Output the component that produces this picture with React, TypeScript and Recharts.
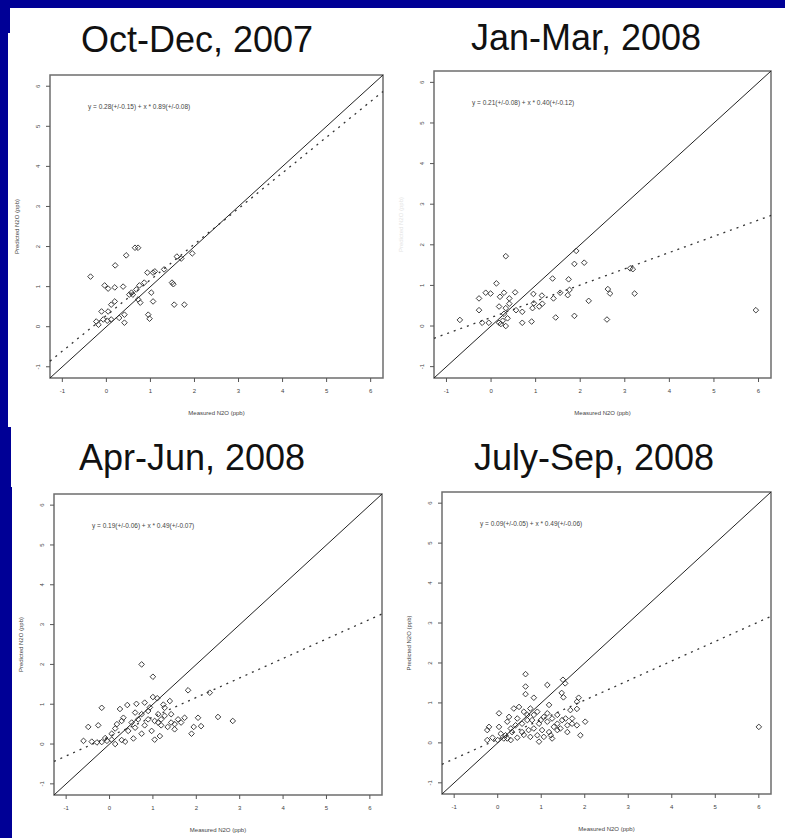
import React from "react";
import { ScatterChart, Scatter, XAxis, YAxis, ReferenceLine, ReferenceArea, Label } from "recharts";

// seasonal measured vs predicted N2O (ppb)
const titles = ["Oct-Dec, 2007", "Jan-Mar, 2008", "Apr-Jun, 2008", "July-Sep, 2008"];
const axisTicks = [-1, 0, 1, 2, 3, 4, 5, 6];

// fitted regression: predicted = a + b * measured
const intercepts = [0.28, 0.21, 0.19, 0.09];
const interceptErr = [0.15, 0.08, 0.06, 0.05];
const slopes = [0.89, 0.4, 0.49, 0.49];
const slopeErr = [0.08, 0.12, 0.07, 0.06];

const octDec2007: [number, number][] = [
  [0.65, 1.97], [0.72, 1.97], [0.45, 1.78], [0.2, 1.53], [-0.36, 1.25], [0.93, 1.35],
  [1.06, 1.35], [1.49, 1.1], [1.52, 1.06], [1.95, 1.83], [1.7, 1.7], [-0.04, 1.03],
  [0.04, 0.95], [0.19, 0.98], [0.38, 1.0], [0.57, 0.85], [0.68, 0.93], [0.75, 1.03],
  [0.86, 1.1], [1.02, 0.85], [1.06, 0.63], [0.72, 0.68], [0.77, 0.6], [0.19, 0.63],
  [0.11, 0.55], [-0.11, 0.38], [0.04, 0.38], [0.41, 0.3], [0.41, 0.1], [0.95, 0.3],
  [0.98, 0.2], [1.54, 0.55], [1.77, 0.55], [-0.23, 0.13], [-0.18, 0.05], [-0.07, 0.18],
  [0.02, 0.15], [0.11, 0.18], [0.29, 0.22], [0.52, 0.8], [0.6, 0.8], [1.1, 1.38],
  [1.31, 1.43], [1.6, 1.75],
];

const janMar2008: [number, number][] = [
  [0.33, 1.72], [1.91, 1.85], [1.87, 1.53], [2.09, 1.56], [3.18, 1.4], [3.12, 1.42],
  [1.38, 1.17], [1.74, 1.15], [0.12, 1.05], [-0.12, 0.82], [-0.27, 0.68], [-0.01, 0.8],
  [0.29, 0.82], [0.54, 0.83], [0.2, 0.72], [0.41, 0.68], [0.95, 0.79], [1.14, 0.75],
  [1.55, 0.82], [1.76, 0.89], [1.72, 0.76], [1.4, 0.68], [2.19, 0.62], [2.62, 0.91],
  [2.67, 0.8], [3.22, 0.8], [5.94, 0.39], [-0.27, 0.39], [0.18, 0.48], [0.33, 0.44],
  [0.56, 0.39], [0.7, 0.35], [0.93, 0.44], [1.08, 0.48], [1.15, 0.55], [0.96, 0.56],
  [1.45, 0.21], [1.87, 0.25], [2.6, 0.16], [-0.7, 0.15], [-0.2, 0.08], [-0.05, 0.08],
  [0.18, 0.08], [0.26, 0.13], [0.37, 0.19], [0.29, 0.3], [0.33, 0.0], [0.22, 0.05],
  [0.7, 0.08], [0.91, 0.11], [0.41, 0.55],
];

const aprJun2008: [number, number][] = [
  [0.74, 2.0], [1.0, 1.69], [-0.18, 0.91], [0.24, 0.88], [0.41, 0.98], [0.62, 1.01],
  [0.81, 1.04], [1.0, 1.18], [1.1, 1.15], [1.27, 0.91], [1.39, 1.08], [1.81, 1.35],
  [2.31, 1.29], [2.5, 0.68], [2.84, 0.58], [2.11, 0.45], [1.94, 0.43], [1.89, 0.26],
  [1.58, 0.62], [1.73, 0.66], [2.04, 0.66], [1.5, 0.5], [1.34, 0.43], [1.19, 0.47],
  [1.04, 0.58], [0.89, 0.62], [0.74, 0.75], [0.59, 0.79], [0.66, 0.62], [0.51, 0.54],
  [0.28, 0.58], [0.13, 0.39], [0.05, 0.26], [-0.49, 0.43], [-0.26, 0.47], [-0.6, 0.08],
  [-0.41, 0.06], [-0.29, 0.04], [-0.18, 0.05], [-0.06, 0.08], [0.05, 0.11], [0.28, 0.1],
  [0.36, 0.06], [0.55, 0.14], [0.74, 0.26], [1.04, 0.11], [1.16, 0.2], [0.59, 0.41],
  [0.43, 0.33], [0.97, 0.33], [1.12, 0.75], [1.27, 0.71], [1.42, 0.75], [0.89, 0.83],
  [1.19, 0.62], [1.42, 0.54], [1.5, 0.37], [1.65, 0.54], [1.12, 0.54], [0.81, 0.47],
  [0.32, 0.66], [0.17, 0.5], [-0.1, 0.15], [0.13, 0.0], [1.24, 0.99], [0.93, 0.92],
];

const julSep2008: [number, number][] = [
  [6.0, 0.4], [0.64, 1.72], [0.64, 1.41], [1.14, 1.45], [1.5, 1.58], [1.55, 1.49],
  [0.64, 1.22], [0.83, 1.13], [1.47, 1.25], [1.51, 1.14], [1.86, 1.13], [1.82, 1.03],
  [1.18, 0.95], [1.67, 0.82], [1.82, 0.85], [0.03, 0.74], [0.37, 0.86], [0.49, 0.9],
  [0.75, 0.86], [-0.2, 0.4], [-0.24, 0.32], [-0.12, 0.13], [0.07, 0.23], [0.22, 0.53],
  [0.3, 0.36], [0.45, 0.61], [0.56, 0.48], [0.68, 0.7], [0.79, 0.57], [0.91, 0.78],
  [0.95, 0.48], [1.06, 0.65], [1.14, 0.53], [1.25, 0.61], [1.37, 0.48], [1.48, 0.57],
  [1.6, 0.44], [1.71, 0.48], [1.82, 0.44], [2.01, 0.53], [1.9, 0.19], [1.6, 0.27],
  [1.37, 0.32], [1.22, 0.19], [1.06, 0.15], [0.91, 0.19], [0.75, 0.15], [0.6, 0.2],
  [0.45, 0.13], [0.3, 0.07], [0.14, 0.11], [0.0, 0.07], [-0.24, 0.07], [0.22, 0.11],
  [0.56, 0.27], [0.83, 0.36], [1.02, 0.32], [1.29, 0.4], [1.44, 0.36], [0.6, 0.78],
  [0.68, 0.57], [0.83, 0.7], [0.41, 0.44], [0.99, 0.57], [1.14, 0.74], [1.37, 0.7],
  [1.56, 0.61], [1.71, 0.61], [0.26, 0.65], [0.33, 0.27], [0.71, 0.32], [1.18, 0.27],
  [0.95, 0.03], [1.25, 0.11], [0.03, 0.4], [0.18, 0.19],
];

const seasons = [octDec2007, janMar2008, aprJun2008, julSep2008];

// plot boxes on the page
const boxes = [
  { left: 50, top: 75, w: 333, h: 303 },
  { left: 434, top: 71, w: 337, h: 307 },
  { left: 54, top: 494, w: 328, h: 301 },
  { left: 442, top: 492, w: 329, h: 302 },
];
const titlePos = [
  { x: 197, y: 52 },
  { x: 586, y: 50 },
  { x: 192, y: 470 },
  { x: 594, y: 470 },
];

const LO = -1.28;
const HI = 6.28;
const FONT = "'Liberation Sans', Arial, sans-serif";
const NAVY = "#000096";
const PAD_L = 45;
const PAD_T = 5;
const PAD_R = 5;
const PAD_B = 45;

const Diamond = (props: any) => {
  const { cx, cy } = props;
  if (cx == null || cy == null) return null;
  const s = 2.8;
  return (
    <path
      d={`M${cx},${cy - s}L${cx + s},${cy}L${cx},${cy + s}L${cx - s},${cy}Z`}
      fill="none"
      stroke="#2a2a2a"
      strokeWidth={0.9}
    />
  );
};

const YTick = (props: any) => {
  const { x, y, payload } = props;
  return (
    <text x={x} y={y} transform={`rotate(-90 ${x} ${y})`} textAnchor="middle" fontSize={6} fill="#444" fontFamily={FONT}>
      {payload.value}
    </text>
  );
};

const fmtEq = (i: number) =>
  `y = ${intercepts[i].toFixed(2)}(+/-${interceptErr[i].toFixed(2)}) + x * ${slopes[i].toFixed(2)}(+/-${slopeErr[i].toFixed(2)})`;

function Panel({ idx }: { idx: number }) {
  const b = boxes[idx];
  const data = seasons[idx].map(([x, y]) => ({ x, y }));
  const a = intercepts[idx];
  const k = slopes[idx];
  return (
    <div style={{ position: "absolute", left: b.left - PAD_L, top: b.top - PAD_T }}>
      <ScatterChart
        width={b.w + PAD_L + PAD_R}
        height={b.h + PAD_T + PAD_B}
        margin={{ top: PAD_T, right: PAD_R, bottom: 0, left: 0 }}
        style={{ fontFamily: FONT }}
      >
        <XAxis
          type="number"
          dataKey="x"
          domain={[LO, HI]}
          ticks={axisTicks}
          allowDataOverflow
          axisLine={false}
          height={PAD_B}
          tickSize={4}
          tickMargin={7}
          tick={{ fontSize: 6, fill: "#444" }}
          tickLine={{ stroke: "#555" }}
        >
          <Label value="Measured N2O (ppb)" position="insideBottom" offset={8} style={{ fontSize: 6, fill: "#444" }} />
        </XAxis>
        <YAxis
          type="number"
          dataKey="y"
          domain={[LO, HI]}
          ticks={axisTicks}
          allowDataOverflow
          axisLine={false}
          width={PAD_L}
          tickSize={4}
          tickMargin={6}
          tick={<YTick />}
          tickLine={{ stroke: "#555" }}
        >
          <Label
            value="Predicted N2O (ppb)"
            position="insideLeft"
            angle={-90}
            offset={12}
            style={{ fontSize: 6, fill: idx === 1 ? "#e4e4e4" : "#444", textAnchor: "middle" }}
          />
        </YAxis>
        <ReferenceArea x1={LO} x2={HI} y1={LO} y2={HI} fill="none" fillOpacity={0} stroke="#6e6e6e" strokeWidth={1.5} ifOverflow="visible" />
        <ReferenceLine
          segment={[{ x: LO, y: LO }, { x: HI, y: HI }]}
          stroke="#222"
          strokeWidth={1}
          ifOverflow="visible"
        />
        <ReferenceLine
          segment={[{ x: LO, y: a + k * LO }, { x: HI, y: a + k * HI }]}
          stroke="#333"
          strokeWidth={1.3}
          strokeDasharray="2 5"
          ifOverflow="visible"
        />
        <Scatter data={data} shape={<Diamond />} isAnimationActive={false} />
      </ScatterChart>
    </div>
  );
}

export default function App() {
  return (
    <div style={{ position: "absolute", left: 0, top: 0, width: 785, height: 838, background: "#fff", overflow: "hidden" }}>
      <svg width={785} height={838} style={{ position: "absolute", left: 0, top: 0 }}>
        <rect x={0} y={0} width={785} height={8} fill={NAVY} />
        <rect x={0} y={0} width={10} height={33} fill={NAVY} />
        <rect x={0} y={33} width={8} height={394} fill={NAVY} />
        <rect x={0} y={427} width={11} height={60} fill={NAVY} />
        <rect x={0} y={487} width={12} height={351} fill={NAVY} />
        {titles.map((t, i) => (
          <text key={t} x={titlePos[i].x} y={titlePos[i].y} textAnchor="middle" fontSize={36} fill="#111" fontFamily={FONT}>
            {t}
          </text>
        ))}
        {boxes.map((b, i) => (
          <text key={i} x={b.left + 38} y={b.top + 34} fontSize={6.5} fill="#444" fontFamily={FONT}>
            {fmtEq(i)}
          </text>
        ))}
      </svg>
      {titles.map((t, i) => (
        <Panel key={t} idx={i} />
      ))}
    </div>
  );
}
